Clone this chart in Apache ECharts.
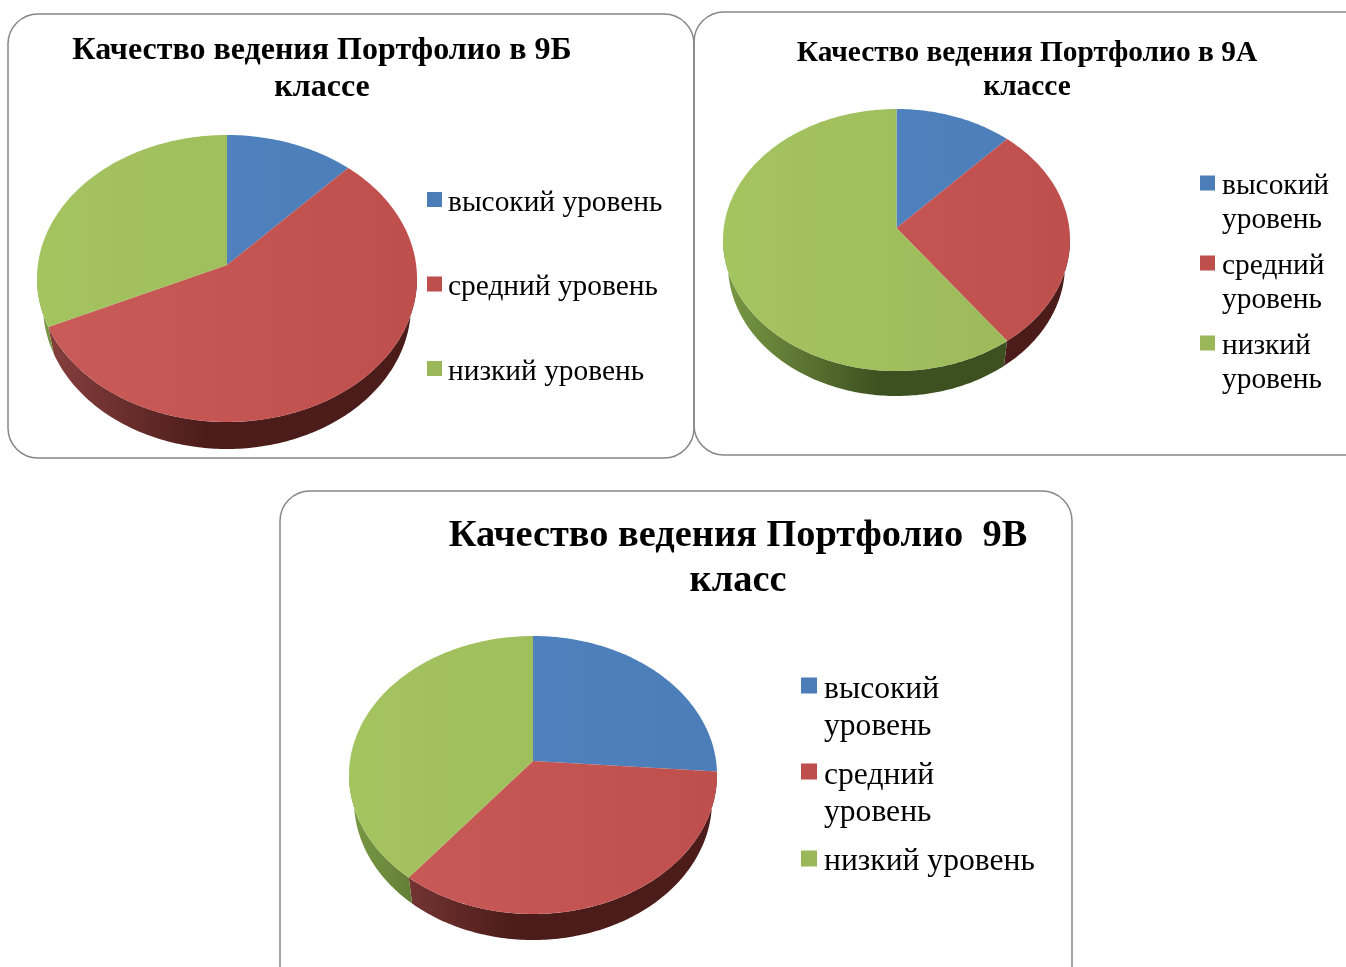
<!DOCTYPE html>
<html>
<head>
<meta charset="utf-8">
<style>
  html, body { margin: 0; padding: 0; background: #fff; overflow: hidden; }
  #main { width: 1346px; height: 967px; }
</style>
<script src="https://cdn.jsdelivr.net/npm/echarts@6/dist/echarts.min.js"></script>
</head>
<body>
<div id="main"></div>
<script>
const categories = ['высокий уровень', 'средний уровень', 'низкий уровень']
// values per class, in percent
const values9B = [11, 58.5, 30.5]
const values9A = [11, 28, 61]
const values9V = [24.6, 37.2, 38.2]

const title9B = 'Качество ведения Портфолио в 9Б\nклассе'
const title9A = 'Качество ведения Портфолио в 9А\nклассе'
const title9V = 'Качество ведения Портфолио  9В\nкласс'

const topColors = [['#5085c2', '#4c7db8'], ['#c95b58', '#bf4f4c'], ['#a4c460', '#9ab859']]
const sideColors = [['#4a76ab', '#2b476b'], ['#8a4240', '#4b1c1a'], ['#7a9a45', '#3d5120']]

const font = '"Liberation Serif", "Times New Roman", serif'

// ellipse centre, radii, apex y, wall height and how much narrower the bottom rim is
const pies = [
  { values: values9B, cx: 227, cy: 278.5, rx: 190, ry: 143.5, apexY: 265, depth: 27, shrink: 6 },
  { values: values9A, cx: 896.5, cy: 240, rx: 173.5, ry: 131, apexY: 228, depth: 25, shrink: 5 },
  { values: values9V, cx: 533, cy: 775, rx: 184, ry: 139, apexY: 761, depth: 26, shrink: 5 },
]

function hGradient(pie, c, mid) {
  return new echarts.graphic.LinearGradient(pie.cx - pie.rx, 0, pie.cx + pie.rx, 0, [
    { offset: 0, color: c[0] },
    { offset: mid, color: c[1] },
    { offset: 1, color: c[1] },
  ], true)
}

function sliceRender(pie, idx) {
  return function () {
    const total = pie.values.reduce((a, b) => a + b, 0)
    const before = pie.values.slice(0, idx).reduce((a, b) => a + b, 0)
    const from = (before / total) * 360
    const to = ((before + pie.values[idx]) / total) * 360
    const rim = (deg) => {
      const t = (deg * Math.PI) / 180
      return [pie.cx + pie.rx * Math.sin(t), pie.cy - pie.ry * Math.cos(t)]
    }
    const lowRim = (deg) => {
      const t = (deg * Math.PI) / 180
      return [pie.cx + (pie.rx - pie.shrink) * Math.sin(t), pie.cy - pie.ry * Math.cos(t) + pie.depth]
    }
    const children = []
    // wall: only the front half of the rim shows
    const a = Math.max(from, 90)
    const b = Math.min(to, 270)
    if (b > a) {
      const upper = []
      const lower = []
      for (let d = a; d < b; d += 1) {
        upper.push(rim(d))
        lower.unshift(lowRim(d))
      }
      upper.push(rim(b))
      lower.unshift(lowRim(b))
      children.push({
        type: 'polygon',
        shape: { points: upper.concat(lower) },
        style: { fill: hGradient(pie, sideColors[idx], 0.45) },
      })
    }
    // top face
    const points = [[pie.cx, pie.apexY]]
    for (let d = from; d < to; d += 1) points.push(rim(d))
    points.push(rim(to))
    children.push({
      type: 'polygon',
      shape: { points: points },
      style: { fill: hGradient(pie, topColors[idx], 1) },
    })
    return { type: 'group', children: children }
  }
}

const series = []
pies.forEach((pie) => {
  categories.forEach((name, idx) => {
    series.push({
      type: 'custom',
      name: name,
      coordinateSystem: 'none',
      renderItem: sliceRender(pie, idx),
      itemStyle: { color: topColors[idx][1] },
      data: [pie.values[idx]],
      animation: false,
      silent: true,
    })
  })
})

function frame(x, y, w, h) {
  return {
    type: 'rect',
    shape: { x: x, y: y, width: w, height: h, r: 30 },
    style: { fill: 'none', stroke: '#868686', lineWidth: 1.5 },
  }
}

function title(text, x, top, size, lineHeight) {
  return {
    text: text,
    left: x,
    top: top,
    textAlign: 'center',
    padding: 0,
    textStyle: {
      fontFamily: font,
      fontWeight: 'bold',
      fontSize: size,
      lineHeight: lineHeight,
      color: '#000',
      align: 'center',
    },
  }
}

// two-line entries get a blank first line, so the swatch sits level with the first word.
// the icon path has a tiny mark below the square, which lifts the square above the text centre
function legend(names, x, top, size, lineHeight, gap, twoLines, swatch, lift, textGap) {
  const h = swatch + lift
  return {
    orient: 'vertical',
    left: x,
    top: top,
    padding: 0,
    itemGap: gap,
    itemWidth: swatch,
    itemHeight: h,
    icon: `path://M0 0H${swatch}V${swatch}H0Z M0 ${h}H0.01V${h - 0.01}Z`,
    selectedMode: false,
    data: names,
    formatter: (n) => (twoLines ? ' \n' + n.replace(' ', '\n') : n),
    textStyle: {
      fontFamily: font,
      fontSize: size,
      lineHeight: lineHeight,
      color: '#000',
      padding: [0, 0, 0, textGap],
    },
  }
}

const chart = echarts.init(document.getElementById('main'), null, { renderer: 'canvas' })
chart.setOption({
  backgroundColor: '#fff',
  animation: false,
  title: [
    title(title9B, 322, 32, 32, 37),
    title(title9A, 1027, 36, 29.4, 34),
    title(title9V, 738, 514, 38.4, 45),
  ],
  legend: [
    legend(categories, 427, 186, 29.4, 34, 50.5, false, 15, 7, 1),
    legend(categories, 1200, 135, 29.4, 34, -22, true, 15, 6, 2),
    legend(categories.slice(0, 2), 801, 634, 31.6, 37, -25, true, 16, 8, 2),
    legend(categories.slice(2), 801, 843, 31.6, 37, 0, false, 16, 6, 2),
  ],
  graphic: [
    frame(8, 14, 686, 444),
    frame(694, 12, 700, 443),
    frame(280, 491, 792, 540),
  ],
  series: series,
})
</script>
</body>
</html>
